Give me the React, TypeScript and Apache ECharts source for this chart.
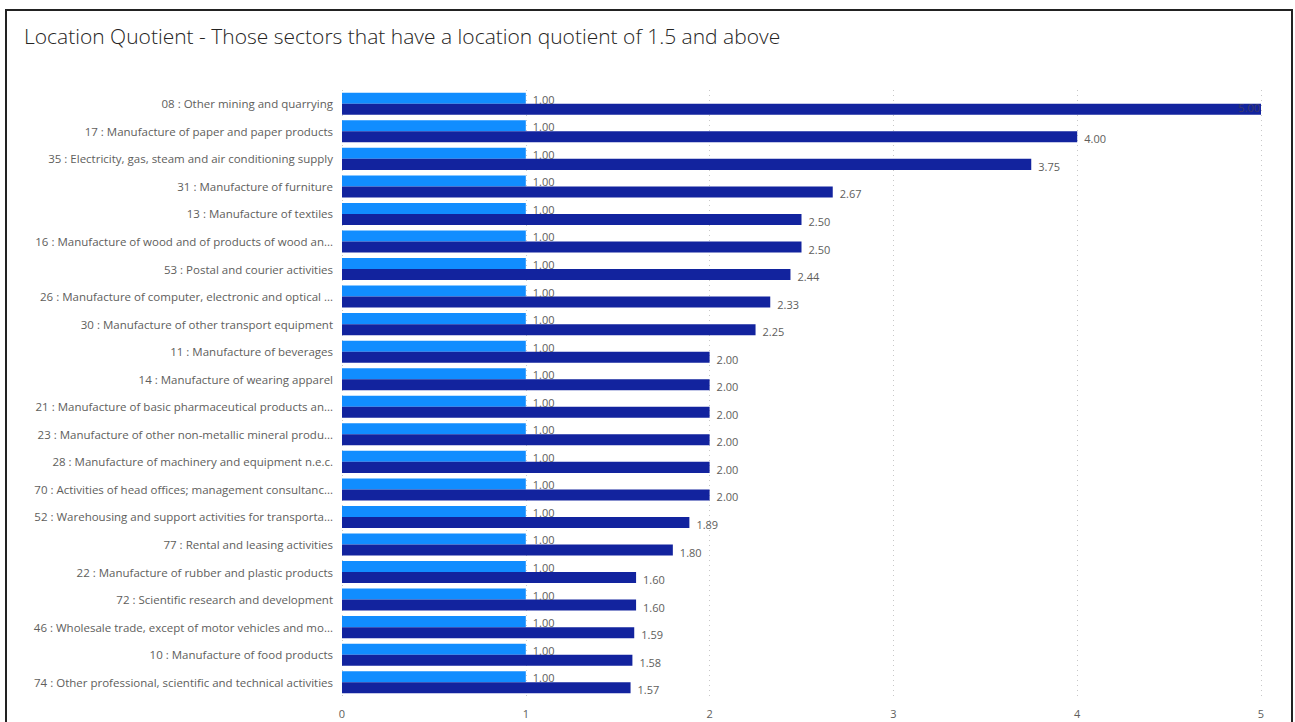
import React, { useEffect, useRef } from "react";
import * as echarts from "echarts";

const categories = [
  "08 : Other mining and quarrying",
  "17 : Manufacture of paper and paper products",
  "35 : Electricity, gas, steam and air conditioning supply",
  "31 : Manufacture of furniture",
  "13 : Manufacture of textiles",
  "16 : Manufacture of wood and of products of wood an...",
  "53 : Postal and courier activities",
  "26 : Manufacture of computer, electronic and optical ...",
  "30 : Manufacture of other transport equipment",
  "11 : Manufacture of beverages",
  "14 : Manufacture of wearing apparel",
  "21 : Manufacture of basic pharmaceutical products an...",
  "23 : Manufacture of other non-metallic mineral produ...",
  "28 : Manufacture of machinery and equipment n.e.c.",
  "70 : Activities of head offices; management consultanc...",
  "52 : Warehousing and support activities for transporta...",
  "77 : Rental and leasing activities",
  "22 : Manufacture of rubber and plastic products",
  "72 : Scientific research and development",
  "46 : Wholesale trade, except of motor vehicles and mo...",
  "10 : Manufacture of food products",
  "74 : Other professional, scientific and technical activities",
];

const baseline = [1, 1, 1, 1, 1, 1, 1, 1, 1, 1, 1, 1, 1, 1, 1, 1, 1, 1, 1, 1, 1, 1];

const quotient = [
  5.0, 4.0, 3.75, 2.67, 2.5, 2.5, 2.44, 2.33, 2.25, 2.0, 2.0, 2.0, 2.0, 2.0, 2.0,
  1.89, 1.8, 1.6, 1.6, 1.59, 1.58, 1.57,
];

const xTicks = [0, 1, 2, 3, 4, 5];

const FONT = "'Open Sans', 'Noto Sans', sans-serif";

export default function App() {
  const ref = useRef<HTMLDivElement>(null);

  useEffect(() => {
    if (!ref.current) return;
    const chart = echarts.init(ref.current, undefined, { renderer: "svg" });
    const maxV = Math.max(...quotient);
    chart.setOption({
      animation: false,
      backgroundColor: "#ffffff",
      title: {
        text: "Location Quotient - Those sectors that have a location quotient of 1.5 and above",
        left: 19,
        top: 20,
        textStyle: {
          fontFamily: FONT,
          fontSize: 21,
          fontWeight: 300,
          color: "#252423",
        },
      },
      graphic: [
        {
          type: "rect",
          shape: { x: 6, y: 10, width: 1286, height: 730 },
          style: { fill: "none", stroke: "#222222", lineWidth: 2 },
          silent: true,
          z: 100,
        },
      ],
      grid: { left: 342, right: 34, top: 90, bottom: 26, containLabel: false },
      xAxis: {
        type: "value",
        min: xTicks[0],
        max: xTicks[xTicks.length - 1],
        interval: 1,
        axisLine: { show: false },
        axisTick: { show: false },
        splitLine: {
          show: true,
          lineStyle: { type: [1, 4], color: "#c8c8c8", width: 1 },
        },
        axisLabel: {
          fontFamily: FONT,
          fontSize: 11,
          color: "#605e5c",
          margin: 12,
        },
      },
      yAxis: {
        type: "category",
        inverse: true,
        data: categories,
        axisLine: { show: false },
        axisTick: { show: false },
        axisLabel: {
          fontFamily: FONT,
          fontSize: 11.5,
          color: "#605e5c",
          margin: 9,
        },
      },
      series: [
        {
          type: "bar",
          data: baseline,
          barGap: "0%",
          barCategoryGap: "20%",
          itemStyle: { color: "#118dff" },
          label: {
            show: true,
            position: "right",
            distance: 7,
            offset: [0, 1],
            formatter: (p: any) => Number(p.value).toFixed(2),
            fontFamily: FONT,
            fontSize: 11,
            color: "#605e5c",
          },
        },
        {
          type: "bar",
          data: quotient.map((v) => ({
            value: v,
            label:
              v === maxV
                ? { position: "insideRight", distance: 1, offset: [0, -2], color: "#3a3a6a" }
                : undefined,
          })),
          itemStyle: { color: "#12239e" },
          label: {
            show: true,
            position: "right",
            distance: 7,
            offset: [0, 2],
            formatter: (p: any) => Number(p.value).toFixed(2),
            fontFamily: FONT,
            fontSize: 11,
            color: "#605e5c",
          },
        },
      ],
    });
    return () => chart.dispose();
  }, []);

  return (
    <div
      ref={ref}
      style={{ position: "fixed", left: 0, top: 0, width: 1295, height: 722 }}
    />
  );
}
